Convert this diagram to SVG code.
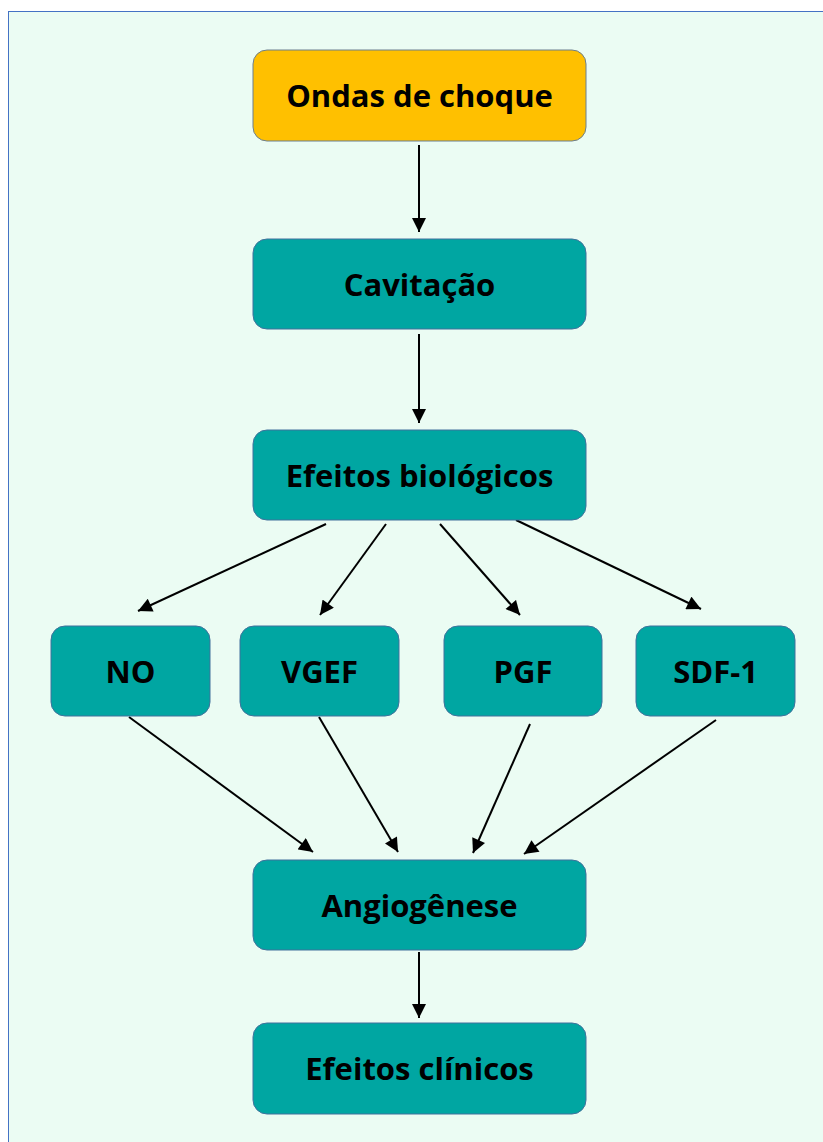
<svg xmlns="http://www.w3.org/2000/svg" width="823" height="1142" viewBox="0 0 823 1142">
<style>
.box{fill:#00A6A2;stroke:#41719C;stroke-width:1}
.top{fill:#FFC000;stroke:#6B7F8F;stroke-width:1}
.lbl{font-family:"Open Sans","Noto Sans",sans-serif;font-weight:bold;font-size:31px;fill:#000;text-anchor:middle;dominant-baseline:central}
.c{stroke:#000;stroke-width:2;fill:none;marker-end:url(#ah)}
</style>
<defs>
<marker id="ah" viewBox="0 0 10 10" refX="10" refY="5" markerWidth="7.5" markerHeight="7" orient="auto" markerUnits="strokeWidth">
<path d="M0,0 L10,5 L0,10 z" fill="#000"/>
</marker>
</defs>
<rect x="0" y="0" width="823" height="1142" fill="#fff"/>
<rect x="8.5" y="11.5" width="830" height="1150" fill="#EBFCF3" stroke="#4472C4" stroke-width="1"/>
<g id="connectors">
<line class="c" x1="419" y1="145" x2="419" y2="232"/>
<line class="c" x1="419" y1="334" x2="419" y2="423"/>
<line class="c" x1="326" y1="524" x2="138" y2="611"/>
<line class="c" x1="386" y1="524" x2="320" y2="615"/>
<line class="c" x1="440" y1="524" x2="520" y2="615"/>
<line class="c" x1="516" y1="520" x2="701" y2="609"/>
<line class="c" x1="129" y1="717" x2="313" y2="852"/>
<line class="c" x1="319" y1="717" x2="398" y2="852"/>
<line class="c" x1="530" y1="724" x2="473" y2="853"/>
<line class="c" x1="716" y1="720" x2="524" y2="854"/>
<line class="c" x1="419" y1="952" x2="419" y2="1018"/>
</g>
<g id="ondas"><rect class="top" x="253" y="50" width="333" height="91" rx="14"/><text class="lbl" x="419.5" y="95">Ondas de choque</text></g>
<g id="cavitacao"><rect class="box" x="253" y="239" width="333" height="90" rx="14"/><text class="lbl" x="419.5" y="284">Cavitação</text></g>
<g id="efeitos-bio"><rect class="box" x="253" y="430" width="333" height="90" rx="14"/><text class="lbl" x="419.5" y="475">Efeitos biológicos</text></g>
<g id="no"><rect class="box" x="51" y="626" width="159" height="90" rx="14"/><text class="lbl" x="130.5" y="671">NO</text></g>
<g id="vgef"><rect class="box" x="240" y="626" width="159" height="90" rx="14"/><text class="lbl" x="319.5" y="671">VGEF</text></g>
<g id="pgf"><rect class="box" x="444" y="626" width="158" height="90" rx="14"/><text class="lbl" x="523" y="671">PGF</text></g>
<g id="sdf1"><rect class="box" x="636" y="626" width="159" height="90" rx="14"/><text class="lbl" x="715.5" y="671">SDF-1</text></g>
<g id="angiogenese"><rect class="box" x="253" y="860" width="333" height="90" rx="14"/><text class="lbl" x="419.5" y="905">Angiogênese</text></g>
<g id="efeitos-clin"><rect class="box" x="253" y="1023" width="333" height="91" rx="14"/><text class="lbl" x="419.5" y="1068">Efeitos clínicos</text></g>
</svg>
